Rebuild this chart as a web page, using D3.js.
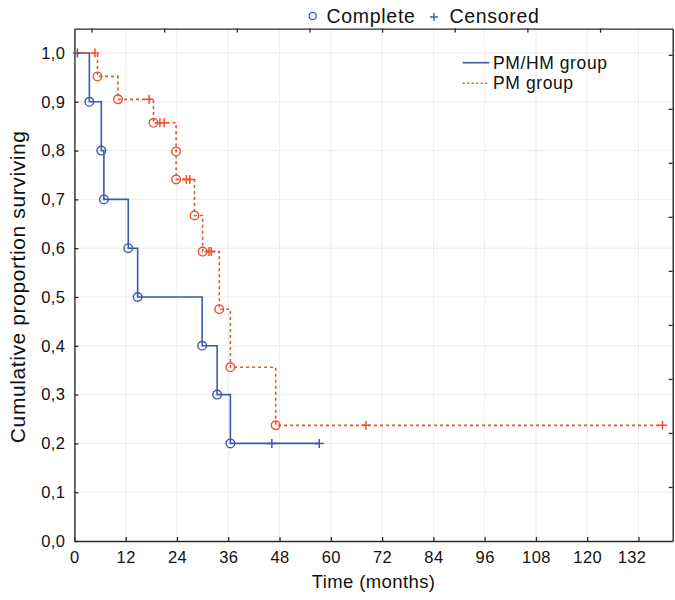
<!DOCTYPE html>
<html>
<head>
<meta charset="utf-8">
<script src="https://cdn.jsdelivr.net/npm/d3@7"></script>
<style>
  html, body { margin: 0; padding: 0; background: #fff; }
  svg { display: block; font-family: "Liberation Sans", Arial, Helvetica, sans-serif; }
</style>
</head>
<body>
<svg id="chart" width="675" height="600"></svg>
<script>
// ---- Data ----
const groups = ["PM/HM group", "PM group"];
const pmhmEventTimes = [3.5, 6.3, 6.9, 12.6, 14.8, 29.9, 33.4, 36.5];
const pmhmSurvival   = [0.9, 0.8, 0.7, 0.6, 0.5, 0.4, 0.3, 0.2];
const pmhmCensorTimes = [0.7, 46.2, 57.3];

const pmEventTimes = [5.4, 10.2, 18.5, 23.8, 23.8, 28.1, 30.0, 33.9, 36.5, 47.1];
const pmSurvival   = [0.952, 0.905, 0.857, 0.798, 0.741, 0.667, 0.593, 0.475, 0.356, 0.237];
const pmCensorTimes = [4.8, 17.5, 20.0, 21.0, 26.2, 27.0, 31.5, 32.0, 68.2, 137.6];

const xTickValues = [0, 12, 24, 36, 48, 60, 72, 84, 96, 108, 120, 132];
const yTickValues = [0, 0.1, 0.2, 0.3, 0.4, 0.5, 0.6, 0.7, 0.8, 0.9, 1.0];
const topLegendLabels = ["Complete", "Censored"];
const xTitle = "Time (months)";
const yTitle = "Cumulative proportion surviving";

// ---- Layout ----
const W = 675, H = 600;
const margin = { left: 74.4, right: 2.3, top: 28.6, bottom: 59 };
const pw = W - margin.left - margin.right;
const ph = H - margin.top - margin.bottom;
const blue = "#3c5aa8";
const orange = "#ea5232";
const axisColor = "#2a2a2a";
const gridColor = "#ebebeb";

const svg = d3.select("#chart");
const g = svg.append("g").attr("transform", `translate(${margin.left},${margin.top})`);

const x = d3.scaleLinear().domain([0, 140]).range([0, pw]);
const y = d3.scaleLinear().domain([0, 1.05]).range([ph, 0]);

// grid
g.append("g").selectAll("line.vg").data(xTickValues.filter(d => d > 0)).join("line")
  .attr("x1", d => x(d)).attr("x2", d => x(d)).attr("y1", 0).attr("y2", ph)
  .attr("stroke", gridColor).attr("stroke-width", 1);
g.append("g").selectAll("line.hg").data(yTickValues.filter(d => d > 0)).join("line")
  .attr("x1", 0).attr("x2", pw).attr("y1", d => y(d)).attr("y2", d => y(d))
  .attr("stroke", gridColor).attr("stroke-width", 1);

// axes
const fmt = d => d3.format(".1f")(d).replace(".", ",");
const xAxis = d3.axisBottom(x).tickValues(xTickValues).tickSizeInner(-4).tickSizeOuter(0).tickPadding(10);
const yAxis = d3.axisLeft(y).tickValues(yTickValues).tickFormat(fmt).tickSizeInner(-4).tickSizeOuter(0).tickPadding(9);
const topAxis = d3.axisTop(x).tickValues(d3.range(140 - 17, 0, -17)).tickFormat("").tickSizeInner(-4).tickSizeOuter(0);
const rightAxis = d3.axisRight(y).tickValues(d3.range(1, 10).map(k => k * 0.1107)).tickFormat("").tickSizeInner(-4).tickSizeOuter(0);

function styleAxis(sel, fs) {
  sel.select(".domain").attr("stroke", axisColor).attr("stroke-width", 1.4);
  sel.selectAll(".tick line").attr("stroke", axisColor).attr("stroke-width", 1.3);
  sel.selectAll(".tick text").attr("fill", "#111").style("font-size", fs + "px")
    .style("letter-spacing", "0.4px")
    .style("font-family", '"Liberation Sans", Arial, sans-serif');
}
const gx = g.append("g").attr("transform", `translate(0,${ph})`).call(xAxis);
styleAxis(gx, 16.5);
gx.selectAll(".tick text").filter(d => d === 132).attr("dx", -7);
const gy = g.append("g").call(yAxis);
styleAxis(gy, 16.5);
const gt = g.append("g").call(topAxis);
styleAxis(gt, 12);
const gr = g.append("g").attr("transform", `translate(${pw},0)`).call(rightAxis);
styleAxis(gr, 12);

// KM step lines
function stepPoints(times, surv, censors) {
  const pts = [[0, 1]];
  times.forEach((t, i) => pts.push([t, surv[i]]));
  const end = Math.max(d3.max(times), d3.max(censors));
  pts.push([end, surv[surv.length - 1]]);
  return pts;
}
function survAt(times, surv, t) {
  let s = 1;
  times.forEach((tt, i) => { if (tt <= t) s = surv[i]; });
  return s;
}
const line = d3.line().x(d => x(d[0])).y(d => y(d[1])).curve(d3.curveStepAfter);

const series = [
  { name: groups[0], times: pmhmEventTimes, surv: pmhmSurvival, cens: pmhmCensorTimes, color: blue, dash: null },
  { name: groups[1], times: pmEventTimes, surv: pmSurvival, cens: pmCensorTimes, color: orange, dash: "3,3" }
];

series.forEach(s => {
  g.append("path").datum(stepPoints(s.times, s.surv, s.cens))
    .attr("d", line).attr("fill", "none").attr("stroke", s.color)
    .attr("stroke-width", 1.6).attr("stroke-dasharray", s.dash);
  // complete (event) markers
  g.append("g").selectAll("circle").data(s.times.map((t, i) => [t, s.surv[i]])).join("circle")
    .attr("cx", d => x(d[0])).attr("cy", d => y(d[1])).attr("r", 4.3)
    .attr("fill", "none").attr("stroke", s.color).attr("stroke-width", 1.4);
  // censored markers
  g.append("g").selectAll("path").data(s.cens.map(t => [t, survAt(s.times, s.surv, t)])).join("path")
    .attr("d", d => { const cx = x(d[0]), cy = y(d[1]); return `M${cx - 4.5},${cy}H${cx + 4.5}M${cx},${cy - 4.5}V${cy + 4.5}`; })
    .attr("stroke", s.color).attr("stroke-width", 1.5).attr("fill", "none");
});

// inner legend
const lg = svg.append("g");
series.forEach((s, i) => {
  const ly = 62.7 + i * 20.6;
  lg.append("line").attr("x1", 462.7).attr("x2", 489.3).attr("y1", ly).attr("y2", ly)
    .attr("stroke", s.color).attr("stroke-width", 1.6).attr("stroke-dasharray", s.dash ? "2,2.5" : null);
  lg.append("text").attr("x", 493).attr("y", ly + 6).text(s.name)
    .style("font-size", "17.5px").style("letter-spacing", "0.6px").attr("fill", "#111");
});

// top legend
const tl = svg.append("g");
tl.append("circle").attr("cx", 312.7).attr("cy", 16).attr("r", 3.6)
  .attr("fill", "none").attr("stroke", blue).attr("stroke-width", 1.3);
tl.append("text").attr("x", 326.5).attr("y", 23.3).text(topLegendLabels[0])
  .style("font-size", "19.5px").style("letter-spacing", "0.7px").attr("fill", "#111");
tl.append("path").attr("d", "M430,17H438M434,13V21").attr("stroke", blue).attr("stroke-width", 1.4);
tl.append("text").attr("x", 449.5).attr("y", 23.3).text(topLegendLabels[1])
  .style("font-size", "19.5px").style("letter-spacing", "0.7px").attr("fill", "#111");

// axis titles
svg.append("text").attr("x", margin.left + pw / 2).attr("y", 588).attr("text-anchor", "middle")
  .text(xTitle).style("font-size", "18.5px").style("letter-spacing", "0.4px").attr("fill", "#111");
svg.append("text").attr("transform", `translate(24.5,${margin.top + ph / 2 + 2}) rotate(-90)`)
  .attr("text-anchor", "middle").text(yTitle).style("font-size", "21px")
  .style("letter-spacing", "0.6px").attr("fill", "#111");
</script>
</body>
</html>
